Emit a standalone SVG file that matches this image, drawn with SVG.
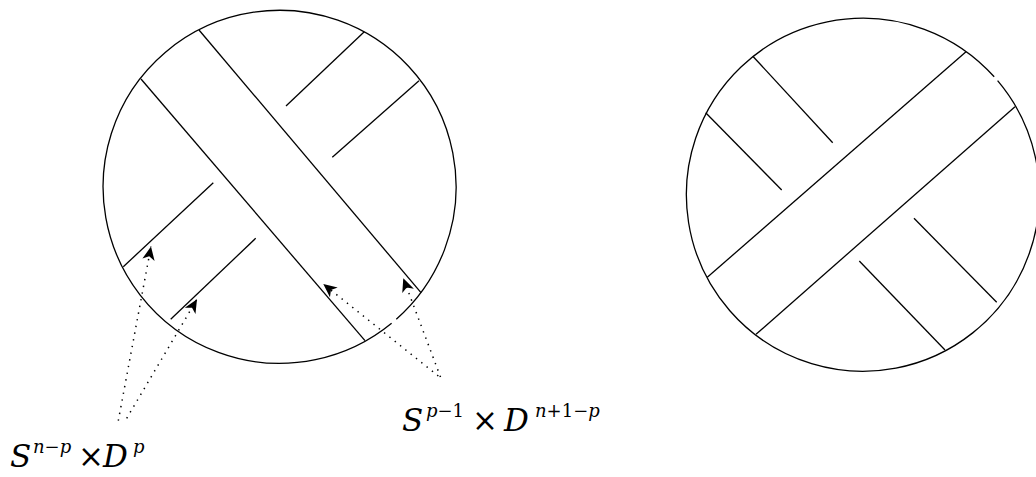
<svg xmlns="http://www.w3.org/2000/svg" width="1036" height="477" viewBox="0 0 1036 477">
<style>
.ln{fill:none;stroke:#000;stroke-width:1.3;stroke-linecap:butt}
.dt{fill:none;stroke:#000;stroke-width:1.5;stroke-dasharray:1.4 5.4}
.i{font-style:italic}
.tx{font-family:"DejaVu Serif","Liberation Serif",serif;fill:#000}
</style>
<defs>
<marker id="ah" markerUnits="userSpaceOnUse" markerWidth="18" markerHeight="16" viewBox="-16 -8 18 16" refX="0" refY="0" orient="auto" overflow="visible">
<path d="M0,0 L-13.5,-6.2 L-9.8,0 L-13.5,6.2 Z" fill="#000"/>
</marker>
</defs>
<rect width="1036" height="477" fill="#fff"/>
<g id="left-ball">
<path class="ln" d="M396.3,319.2 A176.5 176.5 0 1 0 391.6,323.2"/>
<line class="ln" x1="199" y1="30" x2="421" y2="292.7"/>
<line class="ln" x1="141" y1="79" x2="365" y2="340.7"/>
<line class="ln" x1="364.3" y1="31.7" x2="286" y2="106"/>
<line class="ln" x1="419" y1="80.7" x2="332.3" y2="157.3"/>
<line class="ln" x1="213.3" y1="182.7" x2="123.3" y2="266.7"/>
<line class="ln" x1="255.7" y1="238.3" x2="170.7" y2="319.3"/>
</g>
<g id="right-ball">
<path class="ln" d="M997.6,80.7 A176.5 176.5 0 1 1 994.2,76.8"/>
<line class="ln" x1="966" y1="51.7" x2="707.3" y2="277.3"/>
<line class="ln" x1="1015" y1="106.7" x2="756" y2="334.3"/>
<line class="ln" x1="753.3" y1="56.7" x2="832.7" y2="142.7"/>
<line class="ln" x1="705.7" y1="112.7" x2="781.7" y2="190"/>
<line class="ln" x1="914" y1="218.3" x2="996.7" y2="302.3"/>
<line class="ln" x1="859.3" y1="261" x2="945" y2="350"/>
</g>
<g id="connectors">
<path class="dt" d="M118.3,420.7 L151,246.5" marker-end="url(#ah)"/>
<path class="dt" d="M126.7,418.3 L197,299.2" marker-end="url(#ah)"/>
<path class="dt" d="M438.3,376 L323.3,284" marker-end="url(#ah)"/>
<path class="dt" d="M440.5,377 L403.3,278.3" marker-end="url(#ah)"/>
</g>
<g id="label-left">
<text class="tx" y="466.7" font-size="31"><tspan class="i" x="10">S</tspan><tspan x="33" y="453" font-size="18"><tspan class="i">n</tspan>−<tspan class="i">p</tspan></tspan><tspan x="78" y="466.7">×</tspan><tspan class="i" x="103">D</tspan><tspan class="i" x="133" y="453" font-size="18">p</tspan></text>
</g>
<g id="label-right">
<text class="tx" y="430.7" font-size="31"><tspan class="i" x="402">S</tspan><tspan x="426" y="417" font-size="18"><tspan class="i">p</tspan>−1</tspan><tspan x="472" y="430.7">×</tspan><tspan class="i" x="504">D</tspan><tspan x="535" y="417" font-size="18"><tspan class="i">n</tspan>+1−<tspan class="i">p</tspan></tspan></text>
</g>
</svg>
